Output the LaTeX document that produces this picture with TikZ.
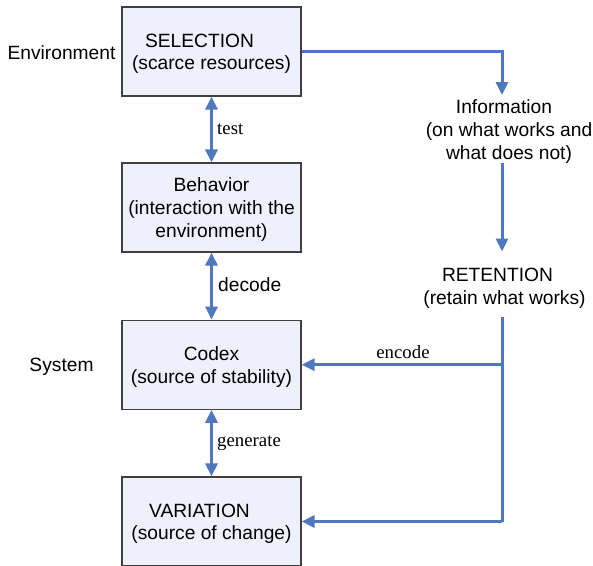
\documentclass[tikz,border=0pt]{standalone}
\usepackage{fontspec}
\setmainfont{Liberation Sans}
\newfontfamily\seriffont{Liberation Serif}
\usetikzlibrary{arrows.meta}
\definecolor{arrblue}{HTML}{4F78BE}
\definecolor{boxfill}{HTML}{EEF0FB}
\definecolor{boxline}{HTML}{404040}
\newcommand{\topstrut}{\rule{0pt}{18pt}}
\begin{document}
\begin{tikzpicture}[x=1pt,y=-1pt,
  font=\fontsize{19.2}{22.8}\selectfont,
  box/.style={draw=boxline, line width=1.2pt, fill=boxfill, minimum width=179pt, minimum height=89pt, align=center, inner sep=0pt},
  lbl/.style={align=center, inner sep=0pt},
  sflbl/.style={inner sep=0pt, anchor=west, font=\seriffont\fontsize{18.8}{22.5}\selectfont},
  conn/.style={draw=arrblue, line width=3pt},
  arr/.style={conn, -{Triangle[length=13pt,width=12pt]}},
  darr/.style={conn, {Triangle[length=13pt,width=12pt]}-{Triangle[length=13pt,width=12pt]}}
]
\useasboundingbox (0,0) rectangle (593,565);
% boxes
\node[box] (sel) at (211.5,51.5) {\topstrut SELECTION\rule{24pt}{0pt}\\(scarce resources)};
\node[box] (beh) at (211.5,207.5) {\topstrut Behavior\\(interaction with the\\environment)};
\node[box] (cod) at (211.5,364.7) {\topstrut Codex\\(source of stability)};
\node[box] (var) at (211.5,521.5) {\topstrut VARIATION\rule{24pt}{0pt}\\(source of change)};
% side labels
\node[lbl] (env) at (61.5,52.5) {Environment};
\node[lbl] (sys) at (61.5,366.5) {System};
% right column texts
\node[lbl] (info) at (509,131.5) {Information\rule{10pt}{0pt}\\(on what works and\\what does not)};
\node[lbl] (ret) at (504.5,288.5) {RETENTION\rule{14pt}{0pt}\\(retain what works)};
% vertical double arrows
\draw[darr] (sel.south) -- (beh.north);
\draw[darr] (beh.south) -- (cod.north);
\draw[darr] (cod.south) -- (var.north);
\node[sflbl] (ltest) at (217,129) {test};
\node[inner sep=0pt, anchor=west] (ldec) at (218,285) {decode};
\node[sflbl] (lgen) at (217,443) {generate};
% right-side connectors
\coordinate (infoTop) at (502,95);
\coordinate (infoBot) at (502,163);
\coordinate (retTop) at (502,251.5);
\coordinate (retBot) at (502,317);
\coordinate (encJ) at (502,364.7);
\coordinate (varJ) at (502,521.5);
\draw[arr] (sel.east) -| (infoTop);
\draw[arr] (infoBot) -- (retTop);
\draw[conn] (retBot) -- (varJ);
\draw[arr] (encJ) -- (cod.east);
\draw[arr] (varJ) -- (var.east);
\node[sflbl, anchor=center] (lenc) at (403,352) {encode};
\end{tikzpicture}
\end{document}
